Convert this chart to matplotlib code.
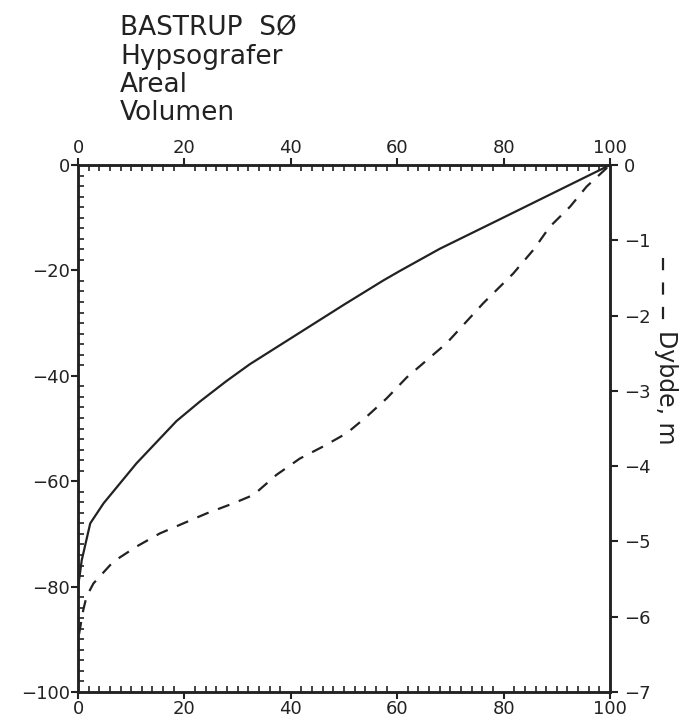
import matplotlib
matplotlib.use("Agg")
import matplotlib.pyplot as plt
from matplotlib.lines import Line2D
from matplotlib.ticker import MultipleLocator

# percent of max depth (left axis) vs percent of area / volume
areal_x = [0, 0.3, 0.7, 2.3, 4.8, 11.0, 18.5, 22.9, 27.9, 32.3, 41.7, 50.0, 57.4, 60.5, 68.0, 79.3, 100]
areal_y = [-80, -78, -75, -68.0, -64.2, -56.6, -48.6, -44.9, -41.0, -37.8, -31.8, -26.5, -21.9, -20.1, -15.9, -10.3, 0]

volumen_x = [0.2, 1.0, 1.6, 2.9, 6.6, 11.0, 15.4, 19.8, 24.2, 29.2, 33.0, 37.3, 41.7, 46.1,
             50.5, 54.2, 58.0, 61.8, 69.3, 76.2, 81.8, 85.6, 88.7, 92.5, 95.6, 100]
volumen_y = [-89, -84.4, -81.9, -79.4, -75.3, -72.4, -69.9, -68.0, -66.1, -64.2, -62.6, -58.8, -55.7, -53.4,
             -50.9, -47.8, -44.3, -40.3, -33.8, -26.2, -20.6, -16.1, -11.7, -7.9, -4.1, 0]

title_lines = ["BASTRUP  SØ", "Hypsografer", "Areal", "Volumen"]
depth_ticks = [0, -1, -2, -3, -4, -5, -6, -7]

ink = "#222222"

fig = plt.figure(figsize=(6.8, 7.22), dpi=100)
ax = fig.add_axes([78 / 680, 1 - 692 / 722, 532 / 680, 527 / 722])

ax.plot(areal_x, areal_y, color=ink, lw=1.6)
ax.plot(volumen_x, volumen_y, color=ink, lw=1.6, dashes=[5.5, 4.5])

ax.set_xlim(0, 100)
ax.set_ylim(-100, 0)
ax.xaxis.set_major_locator(MultipleLocator(20))
ax.xaxis.set_minor_locator(MultipleLocator(2))
ax.yaxis.set_major_locator(MultipleLocator(20))
ax.yaxis.set_minor_locator(MultipleLocator(2))
ax.tick_params(which="major", direction="out", length=5, width=1.5, colors=ink,
               labelsize=13, top=True, labeltop=True, bottom=True, right=False, pad=1)
ax.tick_params(which="minor", direction="in", length=4, width=1.2, colors=ink,
               top=True, bottom=True, right=False)
for s in ax.spines.values():
    s.set_linewidth(1.8)
    s.set_color(ink)

ax2 = ax.twinx()
ax2.set_ylim(-7, 0)
ax2.set_yticks(depth_ticks)
ax2.tick_params(direction="out", length=6, width=1.5, colors=ink, labelsize=13, pad=4)
for s in ax2.spines.values():
    s.set_linewidth(1.8)
    s.set_color(ink)

for i, t in enumerate(title_lines):
    fig.text(120 / 680, 1 - (35 + 28.5 * i) / 722, t, fontsize=19, color=ink, va="baseline", ha="left")

fig.text(666 / 680, 1 - 330 / 722, "Dybde, m", rotation=-90, fontsize=17, color=ink,
         ha="center", va="top")
fig.add_artist(Line2D([663 / 680, 663 / 680], [1 - 258 / 722, 1 - 322 / 722],
                      transform=fig.transFigure, color=ink, lw=1.6, dashes=[5.5, 5.5]))

fig.savefig("out.png", dpi=100)
